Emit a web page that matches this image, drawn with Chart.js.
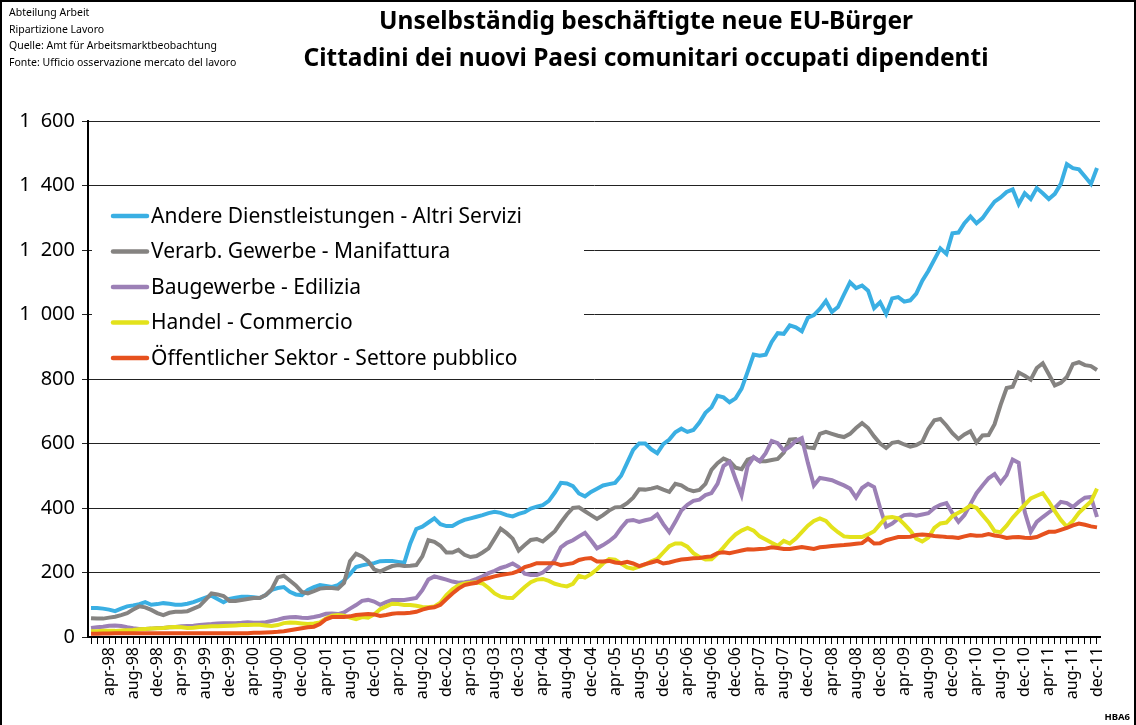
<!DOCTYPE html>
<html>
<head>
<meta charset="utf-8">
<script src="https://cdn.jsdelivr.net/npm/chart.js@4"></script>
<style>
  html, body { margin: 0; padding: 0; background: #fff; }
  #wrap { position: relative; width: 1136px; height: 725px; }
</style>
</head>
<body>
<div id="wrap"><canvas id="chart" width="1136" height="725"></canvas></div>
<script>
// tick labels / categories (monthly, jan-98 .. dec-11)
const years = ['98','99','00','01','02','03','04','05','06','07','08','09','10','11'];
const months = ['jan','feb','mar','apr','mai','jun','jul','aug','sep','okt','nov','dec'];
const shownMonths = ['apr','aug','dec'];
const categories = [];
years.forEach(y => months.forEach(m => categories.push(m + '-' + y)));
const yTicks = [0, 200, 400, 600, 800, 1000, 1200, 1400, 1600];

const seriesNames = [
  'Andere Dienstleistungen - Altri Servizi',
  'Verarb. Gewerbe - Manifattura',
  'Baugewerbe - Edilizia',
  'Handel - Commercio',
  'Öffentlicher Sektor - Settore pubblico'
];
const seriesColors = ['#3aafe3', '#858381', '#9c80b6', '#e3e21c', '#e6511e'];

// values, one per month
const dienstleistungen = [
  90,90,88,85,80,88,95,98,102,108,100,102,
  105,103,100,100,103,108,115,122,128,118,108,118,
  122,125,125,123,121,130,146,152,155,140,132,130,
  146,155,161,158,155,161,175,195,217,222,226,229,
  235,236,236,233,230,290,335,342,355,368,350,344,
  344,355,363,368,373,378,384,388,385,378,374,382,
  387,398,404,409,422,448,478,476,468,445,436,450,
  460,470,474,478,500,540,580,600,600,582,570,598,
  612,635,646,636,642,665,695,712,748,743,728,740,
  770,822,876,872,875,915,942,940,966,960,948,990,
  998,1017,1042,1008,1023,1062,1100,1082,1090,1074,1020,1038,
  1002,1050,1054,1040,1044,1065,1105,1135,1170,1205,1188,1252,
  1254,1283,1304,1283,1299,1325,1350,1363,1380,1388,1342,1376,
  1358,1392,1376,1358,1374,1405,1466,1454,1450,1428,1405,1454
];
const manifattura = [
  58,57,57,60,63,68,74,85,95,92,84,74,
  68,75,78,78,80,88,96,115,135,132,127,112,
  112,115,118,121,121,130,148,185,190,175,160,140,
  135,142,150,152,152,150,168,235,258,250,235,210,
  203,212,220,223,220,221,223,250,300,295,283,262,
  262,270,255,248,251,262,275,305,336,322,305,268,
  285,301,304,296,312,328,355,380,400,402,390,378,
  366,378,392,402,403,415,432,458,457,460,465,457,
  450,475,470,458,452,456,475,518,539,553,545,525,
  520,550,557,545,545,549,552,572,612,614,600,588,
  586,630,636,630,624,620,630,648,663,648,622,600,
  586,602,605,597,590,595,605,645,672,676,656,632,
  614,628,638,603,625,626,660,720,772,776,820,810,
  798,834,849,815,780,788,806,846,852,843,840,828
];
const edilizia = [
  28,30,32,35,36,34,30,27,25,25,26,28,
  28,30,31,33,34,35,37,39,40,42,43,43,
  43,44,46,44,44,46,50,54,59,61,62,60,
  59,62,66,72,73,71,76,88,99,112,115,110,
  100,108,115,115,115,118,121,145,178,188,183,178,
  172,168,170,173,180,188,198,205,214,220,228,217,
  196,192,192,200,215,240,278,292,300,312,323,300,
  275,285,297,312,338,360,363,357,362,366,380,350,
  325,357,392,410,422,426,440,446,475,530,543,490,
  440,530,558,545,570,608,601,578,590,608,617,540,
  470,493,490,486,478,470,460,432,462,475,465,400,
  342,352,367,378,380,376,380,384,400,410,415,384,
  357,378,412,446,470,492,505,478,502,550,540,388,
  326,357,372,386,400,419,415,403,419,432,434,372
];
const commercio = [
  18,18,19,19,19,20,21,22,24,25,26,27,
  28,30,31,30,28,29,31,32,33,33,34,35,
  36,37,37,38,38,36,34,37,43,45,44,42,
  40,42,45,57,66,68,66,60,55,62,60,70,
  86,95,103,102,99,99,97,93,92,95,106,130,
  148,160,166,168,170,166,152,135,125,122,121,138,
  155,170,178,180,174,165,160,157,165,190,184,195,
  210,228,242,240,228,216,212,218,225,235,242,262,
  282,290,290,280,260,248,240,241,258,278,300,318,
  330,338,330,312,302,292,283,298,290,305,325,345,
  360,368,360,340,325,312,310,310,310,318,328,350,
  370,372,368,350,330,305,296,308,338,352,355,375,
  385,395,408,400,378,356,328,325,345,370,390,410,
  430,438,446,420,390,363,342,360,385,403,420,460
];
const settorePubblico = [
  10,10,11,11,12,12,12,12,12,12,12,12,
  12,12,12,12,12,12,12,12,12,12,12,12,
  12,12,12,13,13,14,15,16,18,21,24,27,
  30,32,40,55,62,62,62,64,68,70,71,70,
  65,68,72,74,74,75,78,85,90,92,100,118,
  135,150,161,165,168,178,183,188,192,195,198,205,
  217,222,229,229,229,229,223,226,229,239,243,245,
  234,234,236,231,229,233,228,220,226,231,236,228,
  231,236,240,242,244,245,248,250,260,263,260,264,
  268,272,271,273,274,278,276,273,273,276,279,276,
  273,278,280,282,284,285,287,289,291,305,290,291,
  300,305,310,310,311,316,318,316,313,312,310,309,
  307,312,316,314,315,319,315,312,307,309,310,308,
  307,310,318,326,326,332,338,346,352,348,343,340
];
const seriesValues = [dienstleistungen, manifattura, edilizia, commercio, settorePubblico];

const FONT = "'Noto Sans', 'Open Sans', sans-serif";

function fmtThousands(v) {
  if (v >= 1000) return Math.floor(v / 1000) + '\u2002' + String(v % 1000).padStart(3, '0');
  return String(v);
}

// title, notes, frame and the legend box inside the plot
const decorPlugin = {
  id: 'decor',
  afterDraw(chart) {
    const ctx = chart.ctx;
    ctx.save();
    ctx.fillStyle = '#000';
    ctx.textBaseline = 'alphabetic';

    ctx.font = 'bold 24.5px ' + FONT;
    ctx.textAlign = 'center';
    ctx.fillText('Unselbständig beschäftigte neue EU-Bürger', 646, 29);
    ctx.fillText('Cittadini dei nuovi Paesi comunitari occupati dipendenti', 646, 66);

    ctx.font = '10.5px ' + FONT;
    ctx.textAlign = 'left';
    ['Abteilung Arbeit', 'Ripartizione Lavoro', 'Quelle: Amt für Arbeitsmarktbeobachtung',
     'Fonte: Ufficio osservazione mercato del lavoro'].forEach((t, i) => {
      ctx.fillText(t, 9, 16 + i * 16.6);
    });

    ctx.font = 'bold 9.5px ' + FONT;
    ctx.textAlign = 'right';
    ctx.fillText('HBA6', 1130, 720);

    ctx.strokeStyle = '#000';
    ctx.lineWidth = 2;
    ctx.beginPath();
    ctx.moveTo(1, 725); ctx.lineTo(1, 1); ctx.lineTo(1135, 1); ctx.lineTo(1135, 725);
    ctx.stroke();
    ctx.restore();
  },
  afterDatasetsDraw(chart) {
    const ctx = chart.ctx;
    ctx.save();
    ctx.fillStyle = '#fff';
    ctx.fillRect(92, 196, 492, 174);
    ctx.font = '21px ' + FONT;
    ctx.textAlign = 'left';
    ctx.textBaseline = 'middle';
    chart.data.datasets.forEach((ds, i) => {
      const y = 216 + i * 35.5;
      ctx.strokeStyle = ds.borderColor;
      ctx.lineWidth = 4.5;
      ctx.lineCap = 'round';
      ctx.beginPath();
      ctx.moveTo(113, y); ctx.lineTo(147, y);
      ctx.stroke();
      ctx.fillStyle = '#000';
      ctx.fillText(ds.label, 151, y + 1);
    });
    ctx.restore();
  }
};

new Chart(document.getElementById('chart'), {
  type: 'line',
  data: {
    labels: categories,
    datasets: seriesValues.map((vals, i) => ({
      label: seriesNames[i],
      data: vals,
      borderColor: seriesColors[i],
      backgroundColor: seriesColors[i],
      borderWidth: 4,
      pointRadius: 0,
      tension: 0,
      fill: false,
      order: 5 - i
    }))
  },
  options: {
    responsive: false,
    animation: false,
    devicePixelRatio: 1,
    layout: { padding: { top: 121, left: 8, right: 36, bottom: 0 } },
    plugins: {
      legend: { display: false },
      tooltip: { enabled: false },
      title: { display: false }
    },
    scales: {
      x: {
        type: 'category',
        offset: true,
        grid: { drawOnChartArea: false, drawTicks: true, tickLength: 7, color: '#000', lineWidth: 1 },
        border: { color: '#000', width: 2 },
        ticks: {
          autoSkip: false,
          minRotation: 90,
          maxRotation: 90,
          padding: 3,
          color: '#000',
          font: { family: FONT, size: 16 },
          callback: function (value, index) {
            const lab = categories[index];
            return shownMonths.includes(lab.slice(0, 3)) ? lab : '';
          }
        },
        afterFit(scale) { scale.height = 88; }
      },
      y: {
        min: 0,
        max: 1600,
        afterBuildTicks(scale) { scale.ticks = yTicks.map(v => ({ value: v })); },
        grid: { color: '#222', lineWidth: 1, tickLength: 6, drawTicks: true },
        border: { color: '#000', width: 2 },
        ticks: {
          color: '#000',
          padding: 7,
          font: { family: FONT, size: 20 },
          callback: v => fmtThousands(v)
        },
        afterFit(scale) { scale.width = 80; }
      }
    }
  },
  plugins: [decorPlugin]
});
</script>
</body>
</html>
